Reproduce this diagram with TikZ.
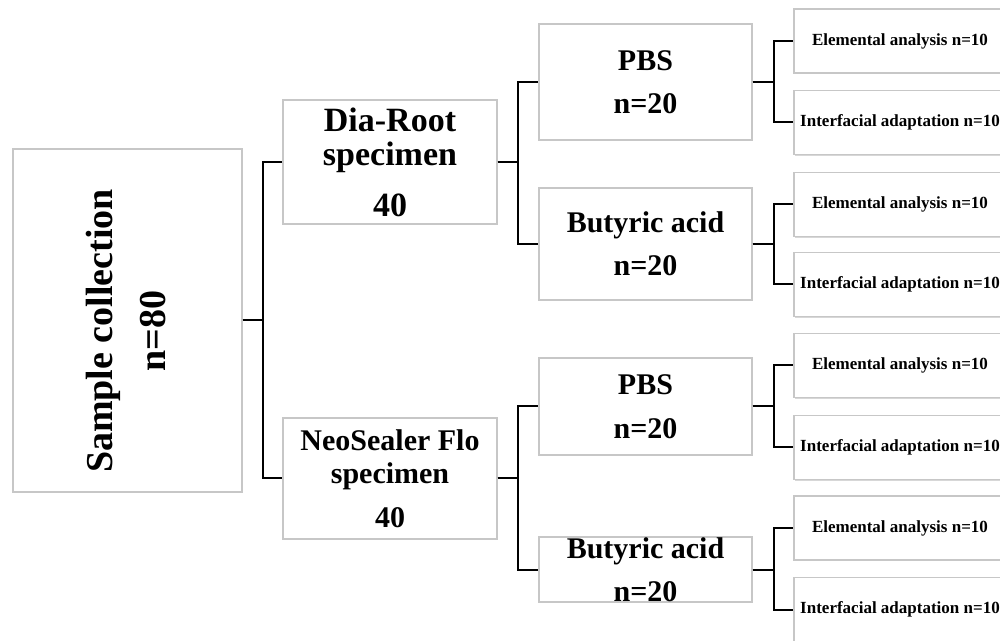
\documentclass[tikz,border=0pt]{standalone}
\usepackage{fontspec}
\setmainfont{Liberation Serif}
\usetikzlibrary{shadows}
\tikzset{
  box/.style={draw=black!22, line width=0.8pt, fill=white, inner sep=0pt, align=center,
    drop shadow={shadow xshift=0.5pt, shadow yshift=-0.8pt, opacity=0.35, fill=black!45}},
  bigbox/.style={box, minimum width=214*0.75pt},
  midbox/.style={box, minimum width=213*0.75pt, font=\bfseries\fontsize{22.5}{32.6}\selectfont},
  smallbox/.style={box, minimum width=212*0.75pt, minimum height=64*0.75pt, font=\bfseries\fontsize{12.75}{15}\selectfont},
  conn/.style={line width=1.5pt, black},
}
\begin{document}
\begin{tikzpicture}[x=0.75pt,y=-0.75pt]
\useasboundingbox (0,0) rectangle (1000,641);
\clip (0,0) rectangle (1000,641);
% root
\node[box, minimum width=229*0.75pt, minimum height=343*0.75pt] (sc) at (127.5,320.5) {};
\node[rotate=90, align=center, font=\bfseries\fontsize{28.5}{40}\selectfont] (sctext) at (126,331) {Sample collection\\n=80};
% level 1
\node[bigbox, minimum height=124*0.75pt, font=\bfseries\fontsize{25.5}{25.5}\selectfont] (dr) at (390,162) {Dia-Root\\specimen\\[12.75pt]40};
\node[bigbox, minimum height=121*0.75pt, font=\bfseries\fontsize{22.5}{24.75}\selectfont] (ns) at (390,478.5) {NeoSealer Flo\\specimen\\[8.25pt]40};
% level 2
\node[midbox, minimum height=116*0.75pt] (p1) at (645.5,82) {PBS\\n=20};
\node[midbox, minimum height=112*0.75pt] (b1) at (645.5,244) {Butyric acid\\n=20};
\node[midbox, minimum height=97*0.75pt] (p2) at (645.5,406.5) {PBS\\n=20};
\node[midbox, minimum height=65*0.75pt] (b2) at (645.5,569.5) {Butyric acid\\n=20};
% level 3
\node[smallbox] (e1) at (900,41) {Elemental analysis n=10};
\node[smallbox] (i1) at (900,122.5) {Interfacial adaptation n=10};
\node[smallbox] (e2) at (900,204.5) {Elemental analysis n=10};
\node[smallbox] (i2) at (900,284.5) {Interfacial adaptation n=10};
\node[smallbox] (e3) at (900,365.5) {Elemental analysis n=10};
\node[smallbox] (i3) at (900,447.5) {Interfacial adaptation n=10};
\node[smallbox] (e4) at (900,528) {Elemental analysis n=10};
\node[smallbox] (i4) at (900,609.5) {Interfacial adaptation n=10};
% connectors
\draw[conn] (sc.east) -- ++(20,0) |- (dr.west);
\draw[conn] (sc.east) -- ++(20,0) |- (ns.west);
\draw[conn] (dr.east) -- ++(20,0) |- (p1.west);
\draw[conn] (dr.east) -- ++(20,0) |- (b1.west);
\draw[conn] (ns.east) -- ++(20,0) |- (p2.west);
\draw[conn] (ns.east) -- ++(20,0) |- (b2.west);
\draw[conn] (p1.east) -- ++(21,0) |- (e1.west);
\draw[conn] (p1.east) -- ++(21,0) |- (i1.west);
\draw[conn] (b1.east) -- ++(21,0) |- (e2.west);
\draw[conn] (b1.east) -- ++(21,0) |- (i2.west);
\draw[conn] (p2.east) -- ++(21,0) |- (e3.west);
\draw[conn] (p2.east) -- ++(21,0) |- (i3.west);
\draw[conn] (b2.east) -- ++(21,0) |- (e4.west);
\draw[conn] (b2.east) -- ++(21,0) |- (i4.west);
\end{tikzpicture}
\end{document}
